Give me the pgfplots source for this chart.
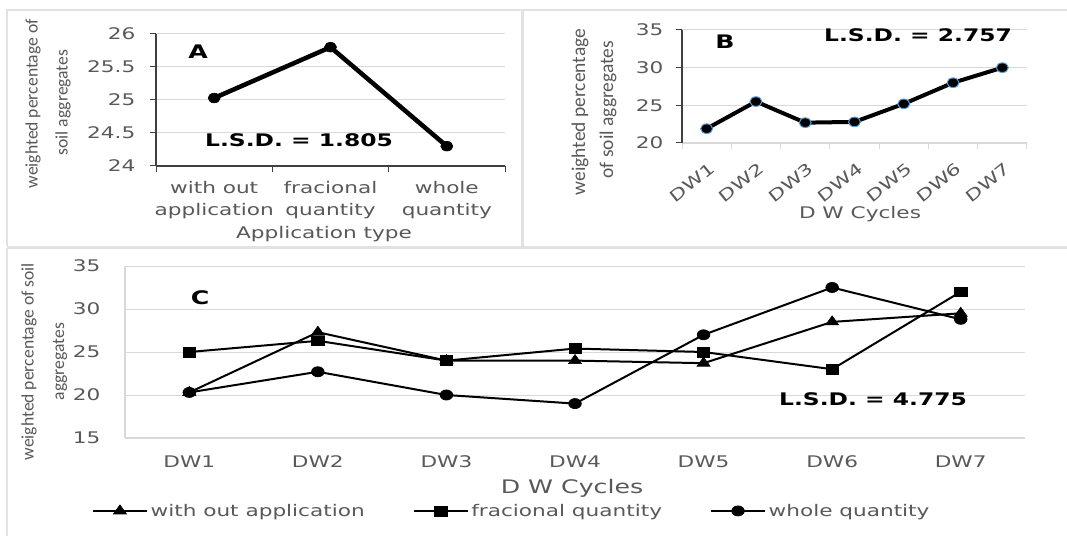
\documentclass[border=0pt]{standalone}
\usepackage{pgfplots}
\pgfplotsset{compat=1.18}
\usepackage{fontspec}
\setmainfont{DejaVu Sans}[FakeStretch=1.35]
\newfontfamily\narrow{Carlito}

\definecolor{txt}{HTML}{595959}
\definecolor{gridc}{HTML}{D9D9D9}
\definecolor{framec}{HTML}{E2E2E2}
\definecolor{axisdark}{HTML}{404040}
\definecolor{mkblue}{HTML}{5B9BD5}

\newcommand{\tickfont}{\fontsize{12}{16.5}\selectfont}
\newcommand{\lsdfont}{\fontsize{13}{16}\selectfont\bfseries}
\newcommand{\panfont}{\fontsize{14}{16}\selectfont\bfseries}
\newcommand{\ylabfont}{\narrow\fontsize{13.2}{15}\selectfont}

\pgfplotsset{
  panel/.style={
    scale only axis, clip=false,
    /pgf/number format/assume math mode=true,
    tick label style={font=\tickfont, text=txt},
    ymajorgrids, major grid style={draw=gridc, line width=0.75pt},
    axis x line=bottom, axis y line=left,
    tick align=outside,
    major tick length=4.5pt, minor tick length=4.5pt,
  },
  dwcats/.style={
    xmin=-0.5, xmax=6.5, xtick={0,...,6},
    xticklabels={DW1,DW2,DW3,DW4,DW5,DW6,DW7},
  },
}
\tikzset{ylab/.style={rotate=90, anchor=west, text=txt}}

\begin{document}
\begin{tikzpicture}[x=0.75pt, y=0.75pt]
\path[fill=white, use as bounding box] (0,0) rectangle (1067,536);

% panel frames
\draw[framec, line width=1.5pt] (7,290) -- (7,526) -- (1067,526);
\draw[framec, line width=2.25pt] (522,526) -- (522,288);
\draw[framec, line width=2.25pt] (7,288) -- (1067,288);
\draw[framec, line width=1.5pt] (7,288) -- (7,0);

% ---------- A: application type ----------
\begin{axis}[panel,
  at={(156*0.75pt,370*0.75pt)}, anchor=south west,
  width=261.75pt, height=99pt,
  xmin=-0.5, xmax=2.5, ymin=24, ymax=26,
  ytick={24,24.5,25,25.5,26},
  yticklabel style={xshift=-7.5pt},
  xtick={0,1,2},
  xticklabels={{with out\\application},{fracional\\quantity},{whole\\quantity}},
  xticklabel style={align=center, yshift=-3.75pt},
  major x tick style={draw=none},
  minor xtick={-0.5,0.5,1.5,2.5},
  minor x tick style={draw=axisdark, line width=0.75pt},
  ytick style={draw=axisdark, line width=0.75pt},
  x axis line style={-, draw=axisdark, line width=1.5pt},
  y axis line style={-, draw=axisdark, line width=1.5pt},
]
\addplot[black, line width=3.4pt, mark=*, mark size=3.6pt,
  mark options={line width=0.5pt, fill=black, xscale=1.25}]
  coordinates {(0,25.03) (1,25.8) (2,24.3)};
\end{axis}

\node[ylab, font=\ylabfont] at (33,343) {weighted percentage of};
\node[ylab, font=\ylabfont] at (63,376) {soil aggregates};
\node[font=\tickfont, text=txt] at (324,302) {Application type};
\node[font=\panfont] at (198,484) {A};
\node[font=\lsdfont] at (299,396) {L.S.D. = 1.805};

% ---------- B: drying-wetting cycles ----------
\begin{axis}[panel, dwcats,
  at={(682*0.75pt,393*0.75pt)}, anchor=south west,
  width=258.75pt, height=84.75pt,
  ymin=20, ymax=35, ytick={20,25,30,35},
  yticklabel style={xshift=-6pt},
  xticklabel style={xshift=2pt, yshift=-4.5pt, rotate=38.7, anchor=north east},
  major x tick style={draw=none},
  minor xtick={-0.5,0.5,...,6.5},
  minor x tick style={draw=gridc, line width=0.75pt},
  ytick style={draw=axisdark, line width=0.75pt},
  x axis line style={-, draw=gridc, line width=1pt},
  y axis line style={-, draw=axisdark, line width=1.5pt},
]
\addplot[black, line width=3pt, mark=*, mark size=3.6pt,
  mark options={line width=0.75pt, fill=black, draw=mkblue, xscale=1.25}]
  coordinates {(0,21.9) (1,25.5) (2,22.7) (3,22.8) (4,25.2) (5,28.0) (6,30.0)};
\end{axis}

\node[ylab, font=\narrow\fontsize{14.6}{16}\selectfont] at (580,336) {weighted percentage};
\node[ylab, font=\narrow\fontsize{14.6}{16}\selectfont] at (608,353) {of soil aggregates};
\node[font=\tickfont, text=txt] at (860,322) {D W Cycles};
\node[font=\panfont] at (725,494) {B};
\node[font=\lsdfont] at (918,501) {L.S.D. = 2.757};

% ---------- C: interaction ----------
\begin{axis}[panel, dwcats,
  at={(125*0.75pt,98*0.75pt)}, anchor=south west,
  width=675pt, height=129pt,
  ymin=15, ymax=35, ytick={15,20,...,35},
  yticklabel style={xshift=-15pt},
  xticklabel style={yshift=-9.75pt},
  major tick length=0pt,
  x axis line style={-, draw=gridc, line width=1pt},
  y axis line style={-, draw=gridc, line width=1pt},
  legend columns=3,
  legend style={at={(axis description cs:-0.037,-0.424)}, anchor=west,
    draw=none, fill=none, font=\tickfont, text=txt, inner sep=0pt,
    /tikz/every even column/.append style={column sep=34pt}},
  legend image code/.code={\draw[mark repeat=2, mark phase=2]
    plot coordinates {(0pt,0pt) (20.25pt,0pt) (40.5pt,0pt)};},
]
\addplot[black, line width=1.5pt, mark=triangle*, mark size=4.5pt,
  mark options={line width=0.5pt, fill=black, xscale=1.25}]
  coordinates {(0,20.3) (1,27.3) (2,24.0) (3,24.0) (4,23.7) (5,28.5) (6,29.5)};
\addlegendentry{with out application}
\addplot[black, line width=1.5pt, mark=square*, mark size=3.7pt,
  mark options={line width=0.5pt, fill=black, xscale=1.25}]
  coordinates {(0,25.0) (1,26.3) (2,24.0) (3,25.4) (4,25.0) (5,23.0) (6,32.0)};
\addlegendentry{fracional quantity}
\addplot[black, line width=1.5pt, mark=*, mark size=3.8pt,
  mark options={line width=0.5pt, fill=black, xscale=1.25}]
  coordinates {(0,20.3) (1,22.7) (2,20.0) (3,19.0) (4,27.0) (5,32.5) (6,28.8)};
\addlegendentry{whole quantity}
\end{axis}

\node[ylab, font=\ylabfont] at (29,71) {weighted percentage of soil};
\node[ylab, font=\ylabfont] at (60,131) {aggregates};
\node[font=\fontsize{14}{16}\selectfont, text=txt] at (572,48) {D W Cycles};
\node[font=\panfont] at (200,238) {C};
\node[font=\lsdfont] at (873,137) {L.S.D. = 4.775};
\end{tikzpicture}
\end{document}
